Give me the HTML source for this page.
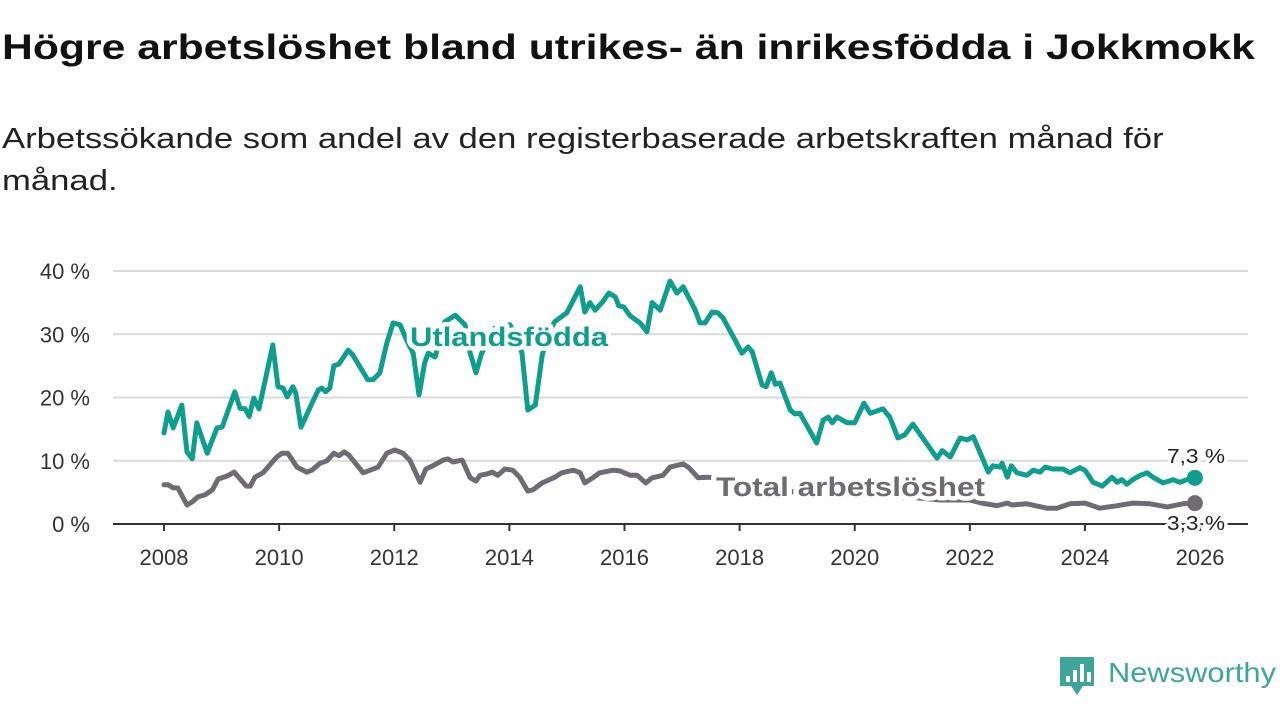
<!DOCTYPE html>
<html><head><meta charset="utf-8"><style>
body{margin:0;background:#fff;width:1280px;height:720px;overflow:hidden;font-family:"Liberation Sans","DejaVu Sans",sans-serif;}
h1{position:absolute;left:2px;top:28px;margin:0;font-size:35px;font-weight:bold;color:#111;white-space:nowrap;transform:scaleX(1.22);transform-origin:0 0;}
.sub{position:absolute;left:2px;top:118px;margin:0;font-size:29px;color:#222;line-height:42px;white-space:nowrap;transform:scaleX(1.195);transform-origin:0 0;}
svg{position:absolute;left:0;top:0;}
</style></head><body>
<h1>Högre arbetslöshet bland utrikes- än inrikesfödda i Jokkmokk</h1>
<p class="sub">Arbetssökande som andel av den registerbaserade arbetskraften månad för<br>månad.</p>
<svg id="chart" width="1280" height="720"></svg>
<script>
const yTicks=[0,10,20,30,40];
const xTicks=[2008,2010,2012,2014,2016,2018,2020,2022,2024,2026];
const utrYears=[2008.0,2008.07,2008.16,2008.31,2008.40,2008.49,2008.57,2008.75,2008.92,2009.01,2009.23,2009.32,2009.41,2009.48,2009.56,2009.65,2009.89,2009.98,2010.07,2010.14,2010.24,2010.29,2010.38,2010.54,2010.68,2010.74,2010.81,2010.88,2010.95,2011.04,2011.20,2011.28,2011.54,2011.63,2011.75,2011.87,2011.98,2012.10,2012.22,2012.33,2012.43,2012.53,2012.59,2012.71,2012.88,2013.06,2013.23,2013.32,2013.42,2013.52,2013.75,2014.01,2014.15,2014.22,2014.32,2014.45,2014.57,2014.67,2014.79,2015.00,2015.23,2015.31,2015.40,2015.49,2015.61,2015.73,2015.84,2015.90,2015.99,2016.10,2016.27,2016.39,2016.48,2016.62,2016.79,2016.91,2017.02,2017.23,2017.31,2017.40,2017.52,2017.62,2017.71,2017.89,2018.04,2018.15,2018.22,2018.39,2018.46,2018.55,2018.62,2018.70,2018.88,2018.96,2019.05,2019.34,2019.45,2019.54,2019.61,2019.69,2019.87,2020.00,2020.16,2020.27,2020.49,2020.61,2020.75,2020.87,2021.01,2021.43,2021.52,2021.66,2021.83,2021.95,2022.06,2022.32,2022.40,2022.52,2022.56,2022.65,2022.72,2022.82,2022.99,2023.10,2023.22,2023.31,2023.44,2023.62,2023.74,2023.91,2024.00,2024.14,2024.30,2024.47,2024.56,2024.64,2024.73,2024.83,2024.96,2025.08,2025.18,2025.36,2025.53,2025.65,2025.77,2025.91];
const utrValues=[14.4,17.7,15.2,18.8,11.4,10.3,16,11.2,15.2,15.3,20.9,18.3,18.2,17,19.9,18.2,28.3,21.7,21.5,20.1,21.7,20.7,15.3,18.5,21.2,21.5,20.9,21.5,25,25.3,27.5,26.7,22.8,22.8,23.9,28.6,31.8,31.5,29,27,20.4,25.5,27,26.4,32,33,31.5,27,23.9,27,31,31.5,29,27,18,18.8,26.7,30,32,33.4,37.5,33.5,35,33.8,35,36.5,35.9,34.5,34.3,32.9,31.8,30.4,35,33.8,38.4,36.5,37.5,33.8,31.8,31.8,33.5,33.4,32.6,29.6,27,28,27.2,22,21.7,23.9,22.1,22.3,18,17.4,17.5,12.8,16.4,16.9,16,16.9,16,16,19.1,17.5,18.2,16.9,13.6,14.1,15.8,10.4,11.6,10.6,13.6,13.3,13.8,8.2,9.2,9,9.6,7.4,9.2,8.1,7.7,8.5,8.2,9,8.7,8.7,8.1,8.9,8.5,6.6,6,7.4,6.6,7,6.3,7,7.7,8.1,7.4,6.5,7,6.6,7,7.3];
const totYears=[2008.0,2008.07,2008.16,2008.24,2008.40,2008.49,2008.59,2008.71,2008.84,2008.94,2009.10,2009.22,2009.43,2009.50,2009.58,2009.72,2009.96,2010.05,2010.15,2010.31,2010.48,2010.57,2010.71,2010.83,2010.95,2011.04,2011.13,2011.21,2011.46,2011.58,2011.72,2011.87,2012.01,2012.15,2012.27,2012.45,2012.55,2012.67,2012.85,2012.93,2013.02,2013.18,2013.32,2013.42,2013.49,2013.61,2013.70,2013.80,2013.92,2014.06,2014.18,2014.32,2014.41,2014.57,2014.79,2014.91,2015.11,2015.23,2015.31,2015.45,2015.57,2015.80,2015.92,2016.10,2016.22,2016.37,2016.48,2016.67,2016.79,2017.02,2017.12,2017.28,2017.45,2017.8,2018.2,2018.6,2019.0,2019.5,2020.0,2020.5,2021.0,2021.5,2022.0,2022.21,2022.47,2022.65,2022.73,2022.99,2023.34,2023.51,2023.74,2024.00,2024.26,2024.56,2024.83,2025.13,2025.43,2025.70,2025.91];
const totValues=[6.2,6.2,5.7,5.7,3,3.5,4.3,4.6,5.4,7.1,7.6,8.2,6,6,7.4,8.1,10.6,11.2,11.2,9,8.2,8.5,9.6,10,11.2,10.8,11.4,10.9,8.1,8.5,9,11.2,11.7,11.2,10.1,6.6,8.7,9.2,10.1,10.3,9.8,10.1,7.3,6.8,7.7,7.9,8.2,7.7,8.7,8.5,7.4,5.2,5.4,6.5,7.4,8.1,8.5,8.1,6.5,7.3,8.1,8.5,8.4,7.7,7.7,6.5,7.3,7.7,9,9.5,8.9,7.3,7.4,7,6.3,5.5,5,4.3,4.5,4.5,4.2,3.8,3.8,3.3,2.9,3.3,3,3.2,2.5,2.5,3.2,3.3,2.5,2.9,3.3,3.2,2.7,3.2,3.3];
const endLabels=["7,3 %","3,3 %"];

const NS="http://www.w3.org/2000/svg";
const svg=document.getElementById('chart');
const X0=113,X1=1248;
const xS=y=>164+(y-2008)*57.56;
const yS=v=>524-v*6.325;
function mk(t,a,p){const e=document.createElementNS(NS,t);for(const k in a)e.setAttribute(k,a[k]);(p||svg).appendChild(e);return e;}

yTicks.forEach(v=>{
  const g=mk('line',{x1:X0,x2:X1,y1:yS(v),y2:yS(v),stroke:v===0?'#333':'#d9d9d9','stroke-width':2});
  
  
  const t=mk('text',{x:90,y:yS(v)+8,'text-anchor':'end','font-size':22,fill:'#333'});
  t.textContent=v+' %';
  
  
});
xTicks.forEach(y=>{
  const l=mk('line',{x1:xS(y),x2:xS(y),y1:524,y2:531,stroke:'#333','stroke-width':2});
  
  
  const t=mk('text',{x:xS(y),y:565,'text-anchor':'middle','font-size':22,fill:'#333'});
  t.textContent=y;
  
  
});
function line(ys,vs,col,name){
  const d=ys.map((y,i)=>(i?'L':'M')+xS(y).toFixed(1)+' '+yS(vs[i]).toFixed(1)).join(' ');
  const p=mk('path',{d,fill:'none',stroke:col,'stroke-width':5,'stroke-linejoin':'round','stroke-linecap':'round'});
  
  
  const n=ys.length-1;
  const c=mk('circle',{cx:xS(ys[n]),cy:yS(vs[n]),r:8,fill:col});
  
  
}
line(totYears,totValues,'#6e6c72','total-line');
line(utrYears,utrValues,'#0f9d8e','utlandsfodda-line');
function lab(txt,x,y,size,col,bold,name,len){
  const a={x,y,'font-size':size,fill:col,'font-weight':bold?'bold':'normal',stroke:'#fff','stroke-width':bold?9:6,'paint-order':'stroke','stroke-linejoin':'round'};
  if(len){a.textLength=len;a.lengthAdjust='spacingAndGlyphs';}
  const t=mk('text',a);
  t.textContent=txt;
  
  
}
lab('Utlandsfödda',410,346,27,'#0f9d8e',true,'series-label-utlandsfodda',198);
lab('Total arbetslöshet',716,496,27,'#6e6c72',true,'series-label-total',269);
lab(endLabels[0],1167,463,20,'#222',false,'end-value-utlandsfodda',58);
lab(endLabels[1],1167,530,20,'#222',false,'end-value-total',58);

const lg=mk('g',{});


mk('path',{d:'M1060 657 H1094 V686 H1083 L1077 695 L1071 686 H1060 Z',fill:'#3fa59a'},lg);
[[1066,676,4,6],[1073,670,4,12],[1080,664,4,18],[1087,672,4,10]].forEach(b=>mk('rect',{x:b[0],y:b[1],width:b[2],height:b[3],fill:'#fff'},lg));
const lt=mk('text',{x:1108,y:682,'font-size':28,fill:'#3fa59a',textLength:168,lengthAdjust:'spacingAndGlyphs'},lg);
lt.textContent='Newsworthy';
</script>
</body></html>
